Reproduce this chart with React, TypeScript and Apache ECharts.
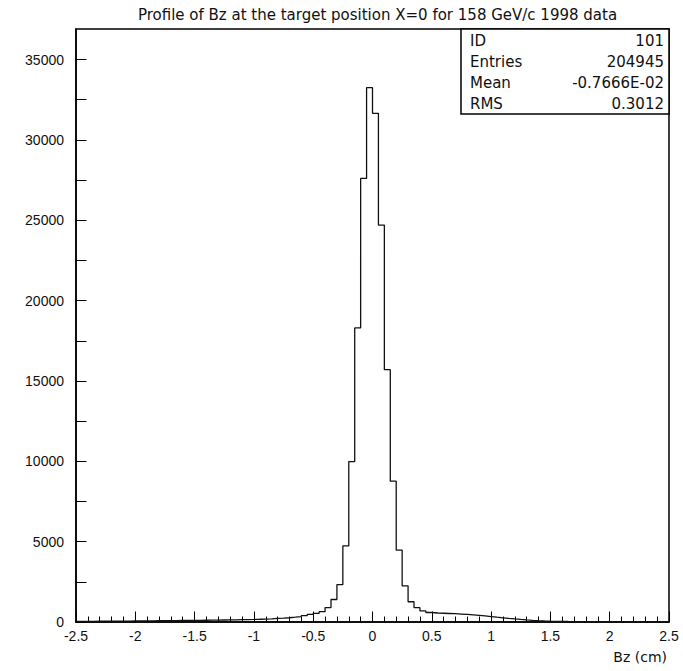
import React, { useEffect, useRef } from "react";
import * as echarts from "echarts";

// Histogram definition: 100 bins of width 0.05 from -2.5 to 2.5
const binLow = -2.5;
const binWidth = 0.05;
const counts: number[] = [
  40, 42, 45, 48, 50, 52, 55, 58, 60, 63,
  66, 70, 73, 77, 80, 84, 88, 92, 96, 100,
  105, 110, 115, 120, 126, 132, 138, 145, 152, 160,
  172, 185, 200, 220, 240, 265, 300, 340, 400, 470,
  540, 640, 900, 1400, 2330, 4740, 9980, 18300, 27600, 33250,
  31650, 24700, 15700, 8760, 4470, 2250, 1260, 890, 690, 590,
  560, 545, 530, 515, 495, 470, 445, 415, 380, 340,
  300, 262, 225, 190, 158, 130, 105, 85, 68, 55,
  45, 38, 32, 28, 25, 22, 20, 18, 16, 15,
  14, 13, 12, 11, 10, 10, 9, 9, 8, 8,
];

const titleText = "Profile of Bz at the target position X=0 for 158 GeV/c 1998 data";
const xAxisName = "Bz (cm)";
const statsLabels = ["ID", "Entries", "Mean", "RMS"];
const statsValues = ["101", "204945", "-0.7666E-02", "0.3012"];

const xMin = -2.5;
const xMax = 2.5;
const yMax = 36900;

export default function App() {
  const ref = useRef<HTMLDivElement>(null);

  useEffect(() => {
    if (!ref.current) return;
    const chart = echarts.init(ref.current, undefined, { renderer: "svg" });

    const pts: [number, number][] = counts.map((c, i) => [binLow + i * binWidth, c]);
    pts.push([binLow + counts.length * binWidth, counts[counts.length - 1]]);

    const gridLeft = 76;
    const gridRight = 14;
    const gridTop = 29;
    const gridBottom = 49;
    const W = 683;
    const boxX = 461;
    const boxRight = W - gridRight;
    const boxY = gridTop;
    const rowH = 21;

    const statFont = '15px "DejaVu Sans"';
    const graphics: any[] = [
      {
        type: "rect",
        shape: { x: boxX, y: boxY, width: boxRight - boxX, height: rowH * 4 + 1 },
        style: { fill: "#fff", stroke: "#000", lineWidth: 1.5 },
        z: 100,
      },
    ];
    statsLabels.forEach((lab, i) => {
      const cy = boxY + rowH * i + rowH / 2 + 1.5;
      graphics.push({
        type: "text",
        x: boxX + 9,
        y: cy,
        style: { text: lab, font: statFont, fill: "#111", textAlign: "left", textVerticalAlign: "middle" },
        z: 101,
      });
      graphics.push({
        type: "text",
        x: boxRight - 5,
        y: cy,
        style: { text: statsValues[i], font: statFont, fill: "#111", textAlign: "right", textVerticalAlign: "middle" },
        z: 101,
      });
    });

    chart.setOption({
      animation: false,
      backgroundColor: "#fff",
      title: {
        text: titleText,
        left: (gridLeft + W - gridRight) / 2,
        top: 2,
        textAlign: "center",
        textStyle: { fontFamily: "DejaVu Sans", fontSize: 15, fontWeight: "normal", color: "#111" },
      },
      grid: {
        left: gridLeft,
        right: gridRight,
        top: gridTop,
        bottom: gridBottom,
        show: true,
        borderColor: "#000",
        borderWidth: 1.5,
        backgroundColor: "transparent",
      },
      xAxis: {
        type: "value",
        min: xMin,
        max: xMax,
        interval: 0.5,
        name: xAxisName,
        nameLocation: "end",
        nameGap: 0,
        nameTextStyle: {
          fontFamily: "DejaVu Sans",
          fontSize: 14,
          color: "#111",
          align: "right",
          verticalAlign: "top",
          padding: [28, 2, 0, 0],
        },
        axisLine: { show: true, onZero: false, lineStyle: { color: "#000", width: 1.5 } },
        axisTick: { show: true, inside: true, length: 10.5, lineStyle: { color: "#000", width: 1 } },
        minorTick: { show: true, splitNumber: 5, length: 5.5, lineStyle: { color: "#000", width: 1 } },
        axisLabel: {
          show: true,
          margin: 7,
          fontFamily: "Liberation Sans",
          fontSize: 14,
          color: "#111",
          formatter: (v: number) => String(Math.round(v * 10) / 10),
        },
        splitLine: { show: false },
      },
      yAxis: {
        type: "value",
        min: 0,
        max: yMax,
        interval: 2500,
        axisLine: { show: true, onZero: false, lineStyle: { color: "#000", width: 1.5 } },
        axisTick: { show: true, inside: true, length: 10.5, lineStyle: { color: "#000", width: 1 } },
        axisLabel: {
          show: true,
          margin: 12,
          showMaxLabel: false,
          fontFamily: "Liberation Sans",
          fontSize: 14,
          color: "#111",
          formatter: (v: number) => (v % 5000 === 0 ? String(v) : ""),
        },
        splitLine: { show: false },
      },
      series: [
        {
          type: "line",
          step: "end",
          data: pts,
          symbol: "none",
          lineStyle: { color: "#111", width: 1.3 },
          clip: true,
        },
      ],
      graphic: graphics,
    });

    return () => chart.dispose();
  }, []);

  return (
    <div
      ref={ref}
      style={{ position: "fixed", left: 0, top: 0, width: 683, height: 671, background: "#fff" }}
    />
  );
}
